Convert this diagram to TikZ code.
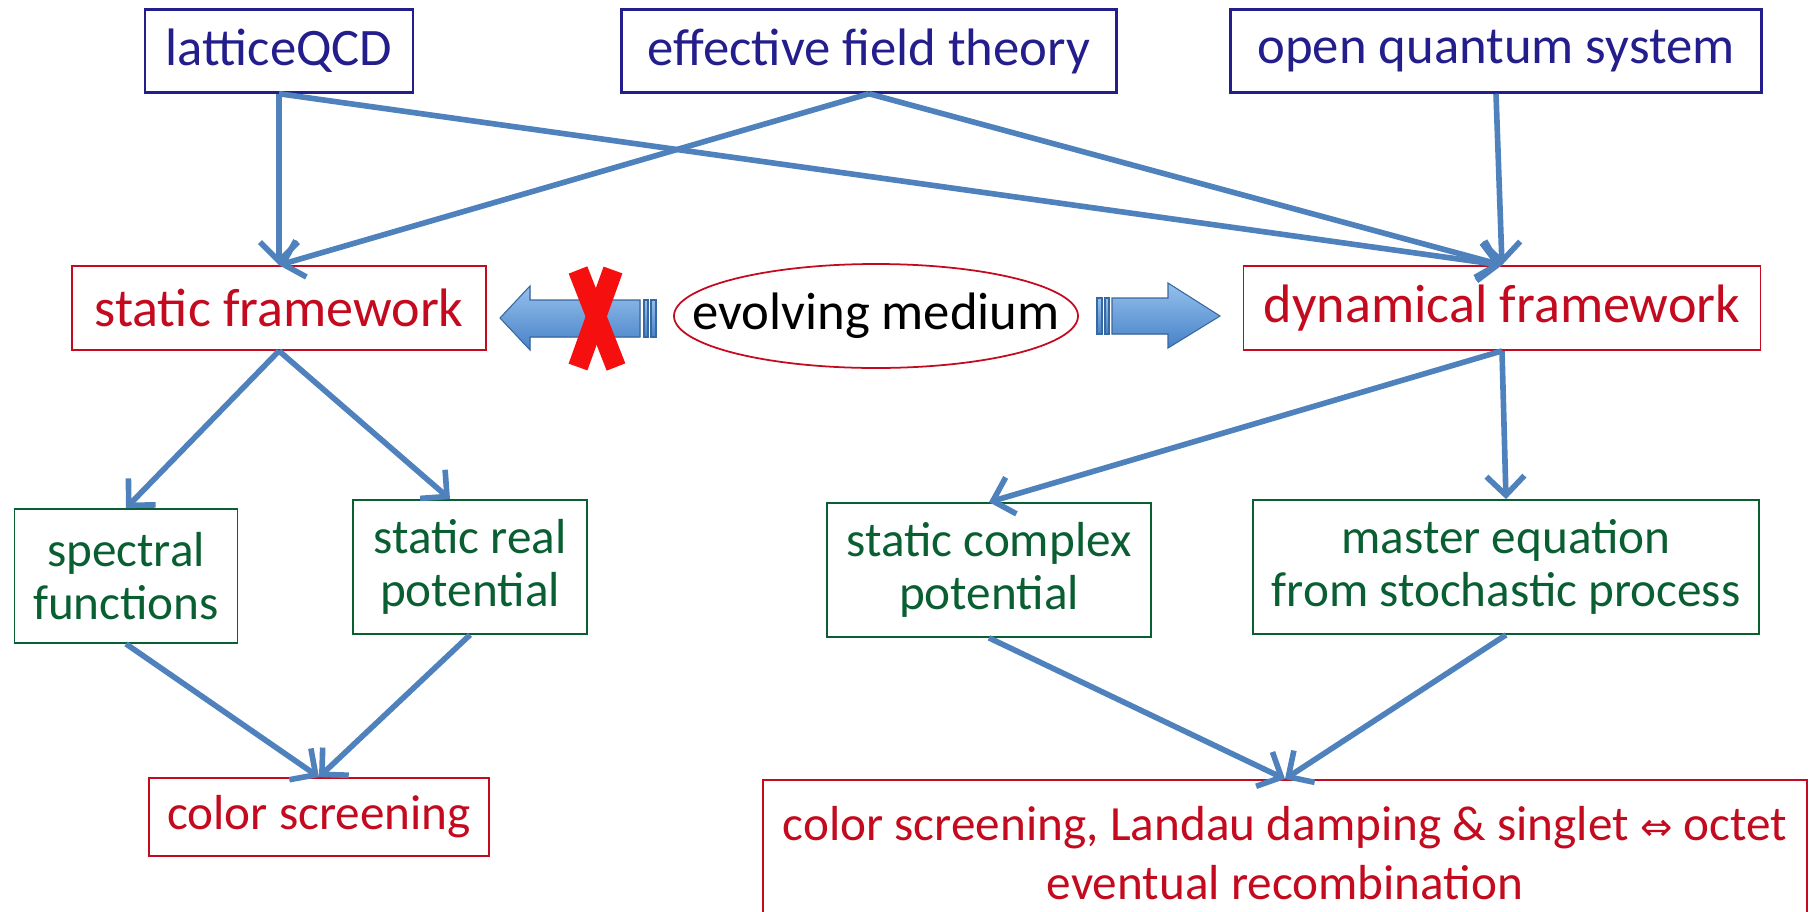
\documentclass[tikz,border=0pt]{standalone}
\usepackage{fontspec}
\setmainfont{Carlito}
\usetikzlibrary{arrows.meta}
\definecolor{boxblue}{RGB}{35,30,140}
\definecolor{boxred}{RGB}{195,10,30}
\definecolor{boxgreen}{RGB}{10,95,50}
\definecolor{linkblue}{RGB}{79,129,189}
\definecolor{fatlight}{RGB}{150,192,236}
\definecolor{fatdark}{RGB}{70,130,200}
\definecolor{crossred}{RGB}{245,15,15}

\begin{document}
\begin{tikzpicture}[x=0.1mm, y=-0.1mm,
    every node/.style={font=\fontsize{15}{16.5}\selectfont, align=center, inner sep=2pt},
    smallfont/.style={font=\fontsize{14}{15}\selectfont},
    bluebox/.style={draw=boxblue, text=boxblue, line width=0.7pt, minimum height=8.3mm},
    redbox/.style={draw=boxred, text=boxred, line width=0.5pt, minimum height=8.4mm},
    greenbox/.style={draw=boxgreen, text=boxgreen, line width=0.5pt, minimum height=13.4mm, smallfont},
    link/.style={draw=linkblue, line width=1.6pt, -{Straight Barb[length=1.9mm, width=3.8mm]}},
    fatarrow/.style={top color=fatlight, bottom color=fatdark, draw=fatdark!80!black, line width=0.3pt}
]

\useasboundingbox (0, 0) rectangle (1814, 911);
\clip (0, 0) rectangle (1814, 911);

% Top row.
\draw (279, 51) node[bluebox, minimum width=26.8mm] (lqcd) {latticeQCD};
\draw (869, 51) node[bluebox, minimum width=49.5mm] (eft) {effective field theory};
\draw (1496, 51) node[bluebox, minimum width=53.1mm] (oqs) {open quantum system};

% Middle row.
\draw (279, 308) node[redbox, minimum width=41.4mm, font=\fontsize{15.4}{17}\selectfont] (sfw) {static framework};
\draw (876, 316) node (med) {evolving medium};
\draw[boxred, line width=0.5pt] (med.center) ellipse [x radius=202, y radius=52];
\draw (1502, 308) node[redbox, minimum width=51.7mm, font=\fontsize{15.4}{17}\selectfont] (dfw) {dynamical framework};

% Third row.
\draw (126, 576) node[greenbox, minimum width=22.3mm] (spec) {spectral\\functions};
\draw (470, 567) node[greenbox, minimum width=23.4mm] (sreal) {static real\\potential};
\draw (989, 570) node[greenbox, minimum width=32.4mm] (scplx) {static complex\\potential};
\draw (1506, 567) node[greenbox, minimum width=50.6mm] (meq) {master equation\\from stochastic process};

% Bottom row.
\draw (319, 817) node[redbox, smallfont, minimum width=34mm, minimum height=7.8mm] (cscr) {color screening};
\draw (1285, 779) node[redbox, anchor=north, font=\fontsize{14}{16.8}\selectfont, minimum width=104.4mm, minimum height=14.6mm] (resl) {color screening, Landau damping \& singlet {\fontspec{DejaVu Sans}\fontsize{11}{12}\selectfont ⇔} octet\\eventual recombination};

% Links.
\draw[link] (lqcd.south) -- (sfw.north);
\draw[link] (lqcd.south) -- (dfw.north);
\draw[link] (eft.south) -- (sfw.north);
\draw[link] (eft.south) -- (dfw.north);
\draw[link] (oqs.south) -- (dfw.north);
\draw[link] (sfw.south) -- (spec.north);
\draw[link] (sfw.south) -- ([xshift=-2mm]sreal.north);
\draw[link] (dfw.south) -- (scplx.north);
\draw[link] (dfw.south) -- (meq.north);
\draw[link] (spec.south) -- (cscr.north);
\draw[link] (sreal.south) -- (cscr.north);
\draw[link] (scplx.south) -- (resl.north);
\draw[link] (meq.south) -- (resl.north);

% Fat arrows beside the medium.
\fill[fatarrow] (500, 318) -- (530, 286) -- (530, 300) -- (640, 300) -- (640, 337)
    -- (530, 337) -- (530, 350) -- cycle;
\fill[fatarrow] (644, 300) rectangle (648, 337);
\fill[fatarrow] (651, 300) rectangle (656, 337);
\fill[fatarrow] (1097, 298) rectangle (1102, 334);
\fill[fatarrow] (1105, 298) rectangle (1109, 334);
\fill[fatarrow] (1220, 316) -- (1168, 283) -- (1168, 298) -- (1112, 298) -- (1112, 334)
    -- (1168, 334) -- (1168, 348) -- cycle;

% Cross.
\draw[crossred, line width=2mm] (578, 270) -- (616, 367);
\draw[crossred, line width=2mm] (613, 270) -- (578, 367);

\end{tikzpicture}
\end{document}
